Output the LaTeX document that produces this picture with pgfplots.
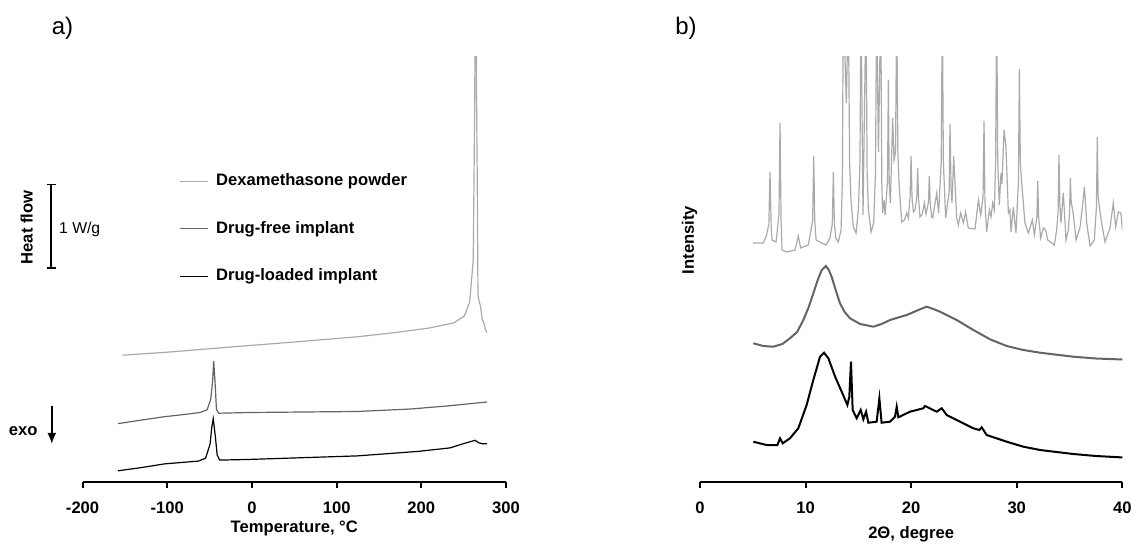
\documentclass[border=0pt]{standalone}
\usepackage{fontspec}
\setmainfont{Liberation Sans}
\usepackage{pgfplots}
\pgfplotsset{compat=1.18}
\usetikzlibrary{arrows.meta}

\definecolor{dexgray}{RGB}{170,170,170}
\definecolor{freegray}{RGB}{100,100,100}
\newcommand{\lab}{\fontsize{16.6}{19}\selectfont\bfseries}

\pgfplotsset{
  panel/.style={
    scale only axis, clip=true,
    axis x line=bottom, axis y line=none,
    axis line style={line width=2pt,-}, x axis line style={-},
    ymin=0, ymax=425, height=425pt,
    tick align=outside, major tick length=6pt,
    every tick/.style={line width=2pt,black},
    xticklabel style={font=\lab, inner sep=0pt, text height=12pt, text depth=0pt, anchor=north, yshift=-13.7pt},
    xlabel style={font=\lab, at={(axis description cs:0.5,0)}, anchor=base, yshift=-50pt},
    ytick=\empty,
  }
}

\begin{document}
\begin{tikzpicture}
\useasboundingbox (0pt,-62pt) rectangle (1132pt,482pt);

% a) DSC
\begin{axis}[panel, at={(82.6pt,0pt)}, anchor=south west, width=423.4pt,
  xmin=-200, xmax=300, xtick={-200,-100,0,100,200,300},
  xticklabels={-200,-100,0,100,200,300},
  xlabel={Temperature, °C},
  legend style={draw=none, fill=none, at={(axis cs:-85.7,308.5)}, anchor=north west,
    inner sep=0pt, row sep=31.9pt, font=\lab,
    nodes={inner sep=0pt, text height=12pt, text depth=3.5pt},
    /tikz/every odd column/.style={column sep=7.5pt}},
  legend cell align=left,
  legend image code/.code={\draw[#1] (0pt,0pt) -- (27.8pt,0pt);}]
\addplot[dexgray, line width=1.2pt] coordinates {
(-152.8,126.8) (-100,129.8) (-50,133.3) (-2.2,136.5) (50,140) (124.2,145.2) (170,149.5)
(208.7,153.9) (238.2,159.1) (250.8,166) (257.1,180) (261.3,221.6) (263,370.9) (263.6,470)
(264.4,470) (266,308.4) (266.9,186.9) (268.5,180) (269.8,176.4) (271.9,162.6) (274,159.1)
(275.5,153) (277.4,149.4)};
\addlegendentry{Dexamethasone powder}
\addplot[freegray, line width=1.2pt] coordinates {
(-158.2,58.4) (-130,62) (-103.4,65.3) (-80,67.5) (-61.3,69.5) (-52.9,72.3) (-48.7,82.7)
(-46.5,100.1) (-45.2,120.9) (-43.6,100.1) (-41.9,72.3) (-39.3,68.8) (-2.2,69.5)
(124.2,70.5) (187.5,73) (230,76) (277.4,80)};
\addlegendentry{Drug-free implant}
\addplot[black, line width=1.2pt] coordinates {
(-158.2,11.2) (-130,14.5) (-103.4,18.1) (-63.4,20.9) (-54.9,23.7) (-49.5,37.6) (-47.4,54.9)
(-45.7,63.25) (-43.1,44.5) (-41.1,27.1) (-38.1,21.9) (-2.2,22.6) (124.2,26.1) (196,30.6)
(233.9,34.1) (250.8,38.6) (263.5,41.7) (267.7,39.3) (271.9,38.25) (277.4,38.25)};
\addlegendentry{Drug-loaded implant}
\end{axis}

% b) XRD
\begin{axis}[panel, at={(700pt,0pt)}, anchor=south west, width=422.3pt,
  xmin=0, xmax=40, xtick={0,10,20,30,40}, xticklabels={0,10,20,30,40},
  xlabel={2Θ, degree}, xlabel style={yshift=-6pt}]
\addplot[dexgray, line width=1.2pt] coordinates {
(5.0,239) (6.0,239) (6.31,247) (6.52,258) (6.63,310) (6.74,256) (6.82,242) (7.2,240)
(7.33,252) (7.48,268) (7.58,359) (7.68,262) (7.77,232) (8.21,230) (9.0,232) (9.31,246)
(9.53,234) (10.26,237) (10.51,252) (10.67,262) (10.77,326) (10.87,260) (11.0,242)
(11.52,239) (11.94,237) (12.31,244) (12.53,258) (12.63,310) (12.73,258) (12.86,244)
(13.1,240) (13.36,252) (13.48,300) (13.58,480) (13.86,379) (14.05,480) (14.17,320)
(14.3,282) (14.52,255) (14.78,249) (15.0,272) (15.15,320) (15.25,480) (15.44,267)
(15.72,480) (15.83,310) (15.95,272) (16.2,250) (16.45,259) (16.62,310) (16.73,480)
(16.9,330) (17.12,480) (17.22,300) (17.29,269) (17.43,282) (17.53,267) (17.76,300)
(17.84,402) (17.92,300) (18.03,279) (18.25,364) (18.38,322) (18.52,330) (18.63,480)
(18.74,330) (18.85,299) (19.1,260) (19.36,262) (19.58,269) (19.73,264) (19.9,285)
(19.99,326) (20.08,285) (20.21,270) (20.36,272) (20.54,285) (20.62,314) (20.7,283)
(20.84,265) (21.06,268) (21.25,279) (21.41,268) (21.64,280) (21.72,306) (21.8,280)
(21.94,265) (22.04,264) (22.42,289) (22.6,269) (22.85,320) (22.95,480) (23.05,320)
(23.27,264) (23.6,290) (23.68,358) (23.78,295) (23.87,279) (24.03,326) (24.31,264)
(24.47,257) (24.69,269) (24.94,259) (25.16,270) (25.41,254) (26.05,253) (26.37,282)
(26.59,267) (26.81,285) (26.9,361) (26.99,280) (27.15,250) (27.41,272) (27.57,265)
(27.72,279) (27.88,272) (28.0,320) (28.1,480) (28.2,320) (28.35,277) (28.51,309)
(28.6,298) (28.8,352) (28.98,335) (29.21,269) (29.36,272) (29.46,250) (29.68,275)
(29.93,249) (30.16,300) (30.25,413) (30.34,320) (30.47,299) (30.78,259) (31.1,249)
(31.48,262) (31.67,247) (31.91,265) (31.99,301) (32.07,265) (32.27,244) (32.52,254)
(32.74,252) (32.93,242) (33.31,239) (33.56,237) (33.78,252) (33.92,270) (34.0,327)
(34.08,280) (34.19,259) (34.41,289) (34.67,242) (34.89,252) (35.0,270) (35.08,304)
(35.16,280) (35.37,267) (35.62,242) (36.0,255) (36.22,275) (36.41,295) (36.63,259)
(36.94,236) (37.35,242) (37.55,275) (37.63,345) (37.71,285) (37.89,270) (38.11,255)
(38.36,240) (38.83,254) (39.15,279) (39.37,255) (39.62,270) (39.87,269) (40.0,252)};
\addplot[freegray, line width=2pt] coordinates {
(5.05,138.7) (6.0,136) (6.95,135.3) (7.8,138) (8.52,143.7) (9.2,150) (9.79,162) (10.3,175)
(10.73,188.7) (11.15,202) (11.53,212) (11.93,216) (12.2,212) (12.47,205.3) (12.85,192)
(13.26,178.7) (13.7,170) (14.21,163.7) (15.16,158) (16.42,155.3) (17.2,158) (18.0,162)
(19.58,167) (20.84,172.7) (21.47,175.3) (22.1,173) (22.73,170.3) (24.31,162) (25.89,152)
(27.47,142.7) (29.05,136) (30.63,132) (32.2,129.3) (35.36,125.3) (37.5,123.5) (40,122.5)};
\addplot[black, line width=2pt] coordinates {
(5.05,40.3) (6.31,37) (7.33,37) (7.58,43.7) (7.83,38.7) (8.52,43.7) (9.31,53.7) (10.1,77)
(10.73,102) (11.37,125.3) (11.75,129.3) (12.16,123.7) (12.8,105.3) (13.42,90.3)
(13.96,77) (14.14,85) (14.3,120.3) (14.46,72) (14.84,63.7) (15.22,72) (15.47,62.7)
(15.73,70.3) (15.95,59.3) (16.73,60.3) (16.99,83.7) (17.2,59.3) (17.99,60.3) (18.47,65.3)
(18.63,75.3) (18.79,64.7) (19.89,70.3) (21.15,73.7) (21.31,76) (22.42,70.3) (22.89,73.7)
(23.37,67) (24.63,60.3) (25.89,53.7) (26.46,52) (26.68,54.7) (27.15,47) (29.05,40.3)
(30.63,35.3) (32.2,32) (35.36,28) (37.5,26) (39.78,24.7) (40,24.5)};
\end{axis}

% annotations
\node[font=\fontsize{24}{28}\selectfont] at (62.5pt,454.2pt) {a)};
\node[font=\fontsize{24}{28}\selectfont] at (686pt,453.6pt) {b)};
\node[font=\lab, rotate=90] at (26.8pt,254.6pt) {Heat flow};
\node[font=\lab, rotate=90] at (689.5pt,242pt) {Intensity};
\draw[line width=1.5pt] (51pt,213.9pt) -- (51pt,297.3pt)
  (46.5pt,213.9pt) -- (55.5pt,213.9pt) (46.5pt,297.3pt) -- (55.5pt,297.3pt);
\node[font=\fontsize{15.7}{18}\selectfont, anchor=west, inner sep=0pt] at (59pt,252.8pt) {1 W/g};
\draw[line width=1.5pt, -{Latex[length=11pt,width=9pt]}] (51.8pt,75.8pt) -- (51.8pt,38.2pt);
\node[font=\lab] at (23.2pt,50.4pt) {exo};
\end{tikzpicture}
\end{document}
